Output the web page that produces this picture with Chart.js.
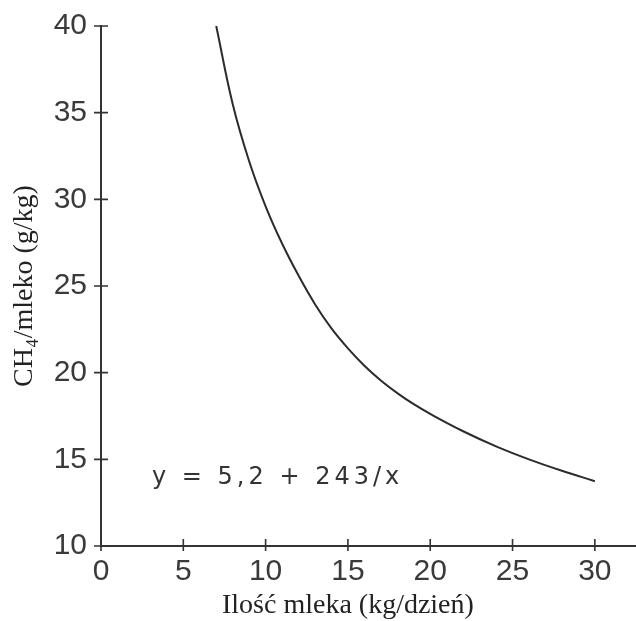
<!DOCTYPE html>
<html>
<head>
<meta charset="utf-8">
<title>CH4/mleko</title>
<script src="https://cdn.jsdelivr.net/npm/chart.js@4.4.1/dist/chart.umd.min.js"></script>
<style>
  html, body { margin: 0; padding: 0; background: #fff; }
  #wrap { width: 636px; height: 621px; }
</style>
</head>
<body>
<div id="wrap"><canvas id="chart"></canvas></div>
<script>
// milk yield (kg/day) and methane per kg of milk (g/kg) along the fitted curve
const milkYield = [7, 8, 9, 10, 11, 12, 13, 14, 15, 16, 17, 18, 19, 20, 22, 24, 26, 28, 30];
const methanePerMilk = [40.0, 35.5, 32.2, 29.6, 27.45, 25.6, 23.95, 22.55, 21.4, 20.4, 19.55, 18.82, 18.18, 17.62, 16.62, 15.75, 15.0, 14.34, 13.74];

const xTickValues = [0, 5, 10, 15, 20, 25, 30];
const yTickValues = [10, 15, 20, 25, 30, 35, 40];

const xTitle = "Ilość mleka (kg/dzień)";
const yTitle = "CH₄/mleko (g/kg)";
const equationText = "y = 5,2 + 243/x";
const equationAt = { x: 3.1, y: 13.6 };

const ink = "#333";

// short tick marks crossing both axes, the x title and the equation
const axisExtras = {
  id: "axisExtras",
  afterDraw(chart) {
    const { ctx, scales: { x, y } } = chart;
    ctx.save();
    ctx.strokeStyle = ink;
    ctx.lineWidth = 1.6;
    ctx.beginPath();
    x.ticks.forEach((t) => {
      const px = x.getPixelForValue(t.value);
      ctx.moveTo(px, y.bottom - 7);
      ctx.lineTo(px, y.bottom + 5);
    });
    y.ticks.forEach((t) => {
      const py = y.getPixelForValue(t.value);
      ctx.moveTo(x.left - 7, py);
      ctx.lineTo(x.left + 7, py);
    });
    ctx.stroke();

    // x title centred under the tick range
    const mid = (xTickValues[0] + xTickValues[xTickValues.length - 1]) / 2;
    ctx.fillStyle = "#222";
    ctx.font = "28px 'Liberation Serif', 'DejaVu Serif', serif";
    ctx.textAlign = "center";
    ctx.textBaseline = "alphabetic";
    ctx.fillText(xTitle, x.getPixelForValue(mid), 613);

    ctx.fillStyle = "#333";
    ctx.font = "24px 'DejaVu Sans', sans-serif";
    ctx.letterSpacing = "4px";
    ctx.textAlign = "left";
    ctx.fillText(equationText, x.getPixelForValue(equationAt.x), y.getPixelForValue(equationAt.y));
    ctx.restore();
  },
};

new Chart(document.getElementById("chart"), {
  type: "line",
  data: {
    labels: milkYield,
    datasets: [
      {
        data: milkYield.map((v, i) => ({ x: v, y: methanePerMilk[i] })),
        borderColor: "#2b2b2b",
        borderWidth: 2,
        pointRadius: 0,
        tension: 0.4,
        fill: false,
        clip: false,
      },
    ],
  },
  options: {
    responsive: true,
    maintainAspectRatio: false,
    animation: false,
    layout: { padding: { top: 26, right: 0, left: 0, bottom: 0 } },
    plugins: {
      legend: { display: false },
      tooltip: { enabled: false },
    },
    scales: {
      x: {
        type: "linear",
        min: 0,
        max: 32.5,
        afterBuildTicks: (scale) => {
          scale.ticks = xTickValues.map((v) => ({ value: v }));
        },
        afterFit: (scale) => {
          scale.height = 75;
          scale.paddingLeft = 0;
          scale.paddingRight = 0;
        },
        grid: { display: false, drawTicks: false },
        border: { display: true, color: ink, width: 2 },
        ticks: {
          padding: 8,
          color: "#3a3a3a",
          font: { family: "'Liberation Sans', Arial, sans-serif", size: 30 },
        },
      },
      y: {
        min: 10,
        max: 40,
        afterBuildTicks: (scale) => {
          scale.ticks = yTickValues.map((v) => ({ value: v }));
        },
        afterFit: (scale) => {
          scale.width = 101;
          scale.paddingTop = 0;
          scale.paddingBottom = 0;
        },
        grid: { display: false, drawTicks: false },
        border: { display: true, color: ink, width: 2 },
        ticks: {
          padding: 14,
          color: "#3a3a3a",
          font: { family: "'Liberation Sans', Arial, sans-serif", size: 30 },
        },
        title: {
          display: true,
          text: yTitle,
          color: "#222",
          padding: { top: 8, bottom: 0 },
          font: { family: "'Liberation Serif', 'DejaVu Serif', serif", size: 28 },
        },
      },
    },
  },
  plugins: [axisExtras],
});
</script>
</body>
</html>
